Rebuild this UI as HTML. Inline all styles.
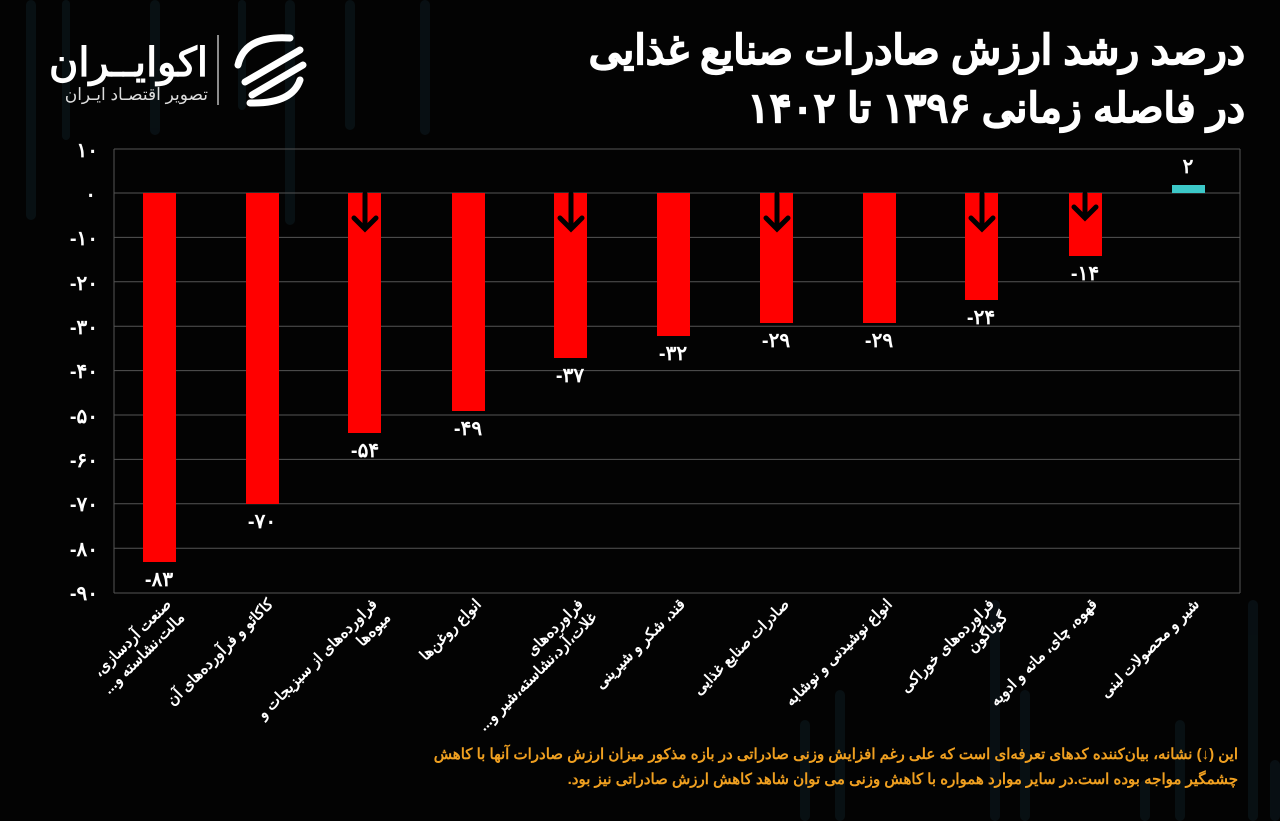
<!DOCTYPE html>
<html><head><meta charset="utf-8"><style>
html,body{margin:0;padding:0;background:#030303;width:1280px;height:821px;overflow:hidden}
svg{display:block}
text{font-family:"Liberation Sans","Noto Sans CJK SC",sans-serif}
.r{direction:rtl;unicode-bidi:embed}
</style></head><body>
<svg width="1280" height="821" viewBox="0 0 1280 821" xmlns="http://www.w3.org/2000/svg">
<rect width="1280" height="821" fill="#030303"/>
<g fill="#0b161b" opacity="0.7">
<rect x="26" y="0" width="10" height="220" rx="5"/>
<rect x="62" y="0" width="8" height="140" rx="4"/>
<rect x="150" y="0" width="10" height="135" rx="5"/>
<rect x="238" y="0" width="8" height="110" rx="4"/>
<rect x="285" y="0" width="10" height="225" rx="5"/>
<rect x="345" y="0" width="10" height="130" rx="5"/>
<rect x="420" y="0" width="10" height="135" rx="5"/>
<rect x="1248" y="600" width="10" height="221" rx="5"/>
<rect x="1270" y="760" width="10" height="61" rx="5"/>
<rect x="1175" y="720" width="10" height="101" rx="5"/>
<rect x="1140" y="780" width="10" height="41" rx="5"/>
<rect x="990" y="600" width="10" height="221" rx="5"/>
<rect x="835" y="690" width="10" height="131" rx="5"/>
<rect x="800" y="720" width="10" height="101" rx="5"/>
<rect x="1020" y="690" width="10" height="131" rx="5"/>
</g>
<!-- logo -->
<text class="r" x="208" y="76" fill="#fff" font-size="40" font-weight="bold" text-anchor="start">اکوایــران</text>
<text class="r" x="208" y="100" fill="#ddd" font-size="17" text-anchor="start">تصویر اقتصـاد ایـران</text>
<line x1="218" y1="35" x2="218" y2="105" stroke="#bbb" stroke-width="1.5"/>
<g fill="none" stroke="#fff" stroke-width="7" stroke-linecap="round">
<path d="M290 38 Q245 35 238 65"/>
<path d="M300 50 L245 82"/>
<path d="M303 65 L252 95"/>
<path d="M300 80 Q292 104 250 103"/>
</g>
<!-- title -->
<text class="r" x="1245" y="64" fill="#fff" font-size="41" font-weight="bold" stroke="#fff" stroke-width="1" text-anchor="start">درصد رشد ارزش صادرات صنایع غذایی</text>
<text class="r" x="1245" y="122" fill="#fff" font-size="41" font-weight="bold" stroke="#fff" stroke-width="1" text-anchor="start">در فاصله زمانی ۱۳۹۶ تا ۱۴۰۲</text>
<!-- grid -->
<g stroke="#555" stroke-width="1">
<line x1="114" y1="149" x2="1240" y2="149"/>
<line x1="114" y1="193" x2="1240" y2="193"/>
<line x1="114" y1="237.4" x2="1240" y2="237.4"/>
<line x1="114" y1="281.8" x2="1240" y2="281.8"/>
<line x1="114" y1="326.2" x2="1240" y2="326.2"/>
<line x1="114" y1="370.6" x2="1240" y2="370.6"/>
<line x1="114" y1="415" x2="1240" y2="415"/>
<line x1="114" y1="459.4" x2="1240" y2="459.4"/>
<line x1="114" y1="503.8" x2="1240" y2="503.8"/>
<line x1="114" y1="548.2" x2="1240" y2="548.2"/>
<line x1="114" y1="593" x2="1240" y2="593"/>
<line x1="114" y1="149" x2="114" y2="593"/>
<line x1="1240" y1="149" x2="1240" y2="593"/>
</g>
<g fill="#fff" font-size="20" font-weight="bold" text-anchor="end">
<text x="98" y="157">۱۰</text>
<text x="96" y="201">۰</text>
<text x="98" y="245">-۱۰</text>
<text x="98" y="290">-۲۰</text>
<text x="98" y="334">-۳۰</text>
<text x="98" y="378">-۴۰</text>
<text x="98" y="423">-۵۰</text>
<text x="98" y="467">-۶۰</text>
<text x="98" y="511">-۷۰</text>
<text x="98" y="556">-۸۰</text>
<text x="98" y="600">-۹۰</text>
</g>
<!-- bars -->
<g fill="#ff0000">
<rect x="143" y="193" width="33" height="369"/>
<rect x="246" y="193" width="33" height="311"/>
<rect x="348" y="193" width="33" height="240"/>
<rect x="452" y="193" width="33" height="218"/>
<rect x="554" y="193" width="33" height="165"/>
<rect x="657" y="193" width="33" height="143"/>
<rect x="760" y="193" width="33" height="130"/>
<rect x="863" y="193" width="33" height="130"/>
<rect x="965" y="193" width="33" height="107"/>
<rect x="1069" y="193" width="33" height="63"/>
</g>
<rect x="1172" y="185" width="33" height="8" fill="#3cc8c8"/>
<g stroke="#000" stroke-width="5" fill="none" stroke-linecap="round">
<path d="M365 194 V228 M354 218 L365 229 L376 218"/>
<path d="M571 194 V228 M560 218 L571 229 L582 218"/>
<path d="M777 194 V228 M766 218 L777 229 L788 218"/>
<path d="M982 194 V228 M971 218 L982 229 L993 218"/>
<path d="M1085 194 V216 M1074 207 L1085 218 L1096 207"/>
</g>
<g fill="#fff" font-size="20" font-weight="bold" text-anchor="middle">
<text x="159" y="586">-۸۳</text>
<text x="262" y="528">-۷۰</text>
<text x="365" y="457">-۵۴</text>
<text x="468" y="435">-۴۹</text>
<text x="570" y="382">-۳۷</text>
<text x="673" y="360">-۳۲</text>
<text x="776" y="347">-۲۹</text>
<text x="879" y="347">-۲۹</text>
<text x="981" y="324">-۲۴</text>
<text x="1085" y="280">-۱۴</text>
<text x="1188" y="173">۲</text>
</g>
<!-- x labels -->
<g fill="#fff" font-size="15" font-weight="bold" text-anchor="start">
<g transform="translate(172,605) rotate(-45)"><text class="r">صنعت آردسازی،</text><text class="r" y="19">مالت،نشاسته و...</text></g>
<g transform="translate(274,605) rotate(-45)"><text class="r">کاکائو و فرآورده‌های آن</text></g>
<g transform="translate(378,605) rotate(-45)"><text class="r">فراورده‌های از سبزیجات و</text><text class="r" y="19">میوه‌ها</text></g>
<g transform="translate(482,605) rotate(-45)"><text class="r">انواع روغن‌ها</text></g>
<g transform="translate(584,605) rotate(-45)"><text class="r">فراورده‌های</text><text class="r" y="19">غلات،آرد،نشاسته،شیر و...</text></g>
<g transform="translate(686,605) rotate(-45)"><text class="r">قند، شکر و شیرینی</text></g>
<g transform="translate(790,605) rotate(-45)"><text class="r">صادرات صنایع غذایی</text></g>
<g transform="translate(893,605) rotate(-45)"><text class="r">انواع نوشیدنی و نوشابه</text></g>
<g transform="translate(995,605) rotate(-45)"><text class="r">فراورده‌های خوراکی</text><text class="r" y="19">گوناگون</text></g>
<g transform="translate(1098,605) rotate(-45)"><text class="r">قهوه، چای، ماته و ادویه</text></g>
<g transform="translate(1200,605) rotate(-45)"><text class="r">شیر و محصولات لبنی</text></g>
</g>
<!-- footnote -->
<g fill="#f0a020" font-size="15" font-weight="bold" text-anchor="start">
<text class="r" x="1238" y="759">این (↓) نشانه، بیان‌کننده کدهای تعرفه‌ای است که علی رغم افزایش وزنی صادراتی در بازه مذکور میزان ارزش صادرات آنها با کاهش</text>
<text class="r" x="1238" y="784">چشمگیر مواجه بوده است.در سایر موارد همواره با کاهش وزنی می توان شاهد کاهش ارزش صادراتی نیز بود.</text>
</g>
</svg>
</body></html>
